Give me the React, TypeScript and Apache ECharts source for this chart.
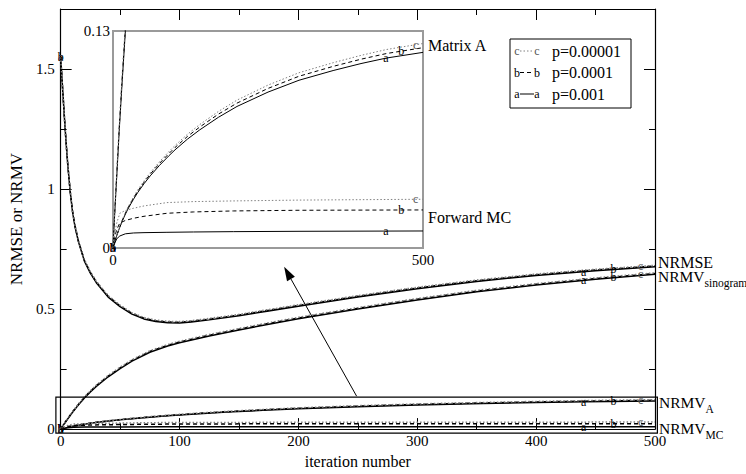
import React, { useEffect, useRef } from "react";
import * as echarts from "echarts";

const FONT = "Liberation Serif";

// Iteration grids and curve values. a: p=0.001, b: p=0.0001, c: p=0.00001
const ITER_NRMSE = [0, 1, 2, 3, 4, 5, 6, 8, 10, 12, 15, 20, 25, 30, 40, 50, 60, 70, 80, 90, 100, 110, 125, 150, 175, 200, 250, 300, 350, 400, 450, 500];
const NRMSE_A = [1.55, 1.47, 1.39, 1.31, 1.235, 1.165, 1.1, 0.99, 0.905, 0.845, 0.78, 0.7, 0.65, 0.61, 0.55, 0.51, 0.479, 0.459, 0.448, 0.443, 0.442, 0.446, 0.455, 0.472, 0.492, 0.512, 0.55, 0.585, 0.615, 0.64, 0.66, 0.676];
const NRMSE_B = [1.55, 1.471, 1.391, 1.312, 1.237, 1.167, 1.102, 0.992, 0.908, 0.848, 0.783, 0.703, 0.653, 0.613, 0.553, 0.513, 0.482, 0.462, 0.451, 0.446, 0.445, 0.449, 0.458, 0.475, 0.495, 0.515, 0.553, 0.588, 0.618, 0.643, 0.663, 0.679];
const NRMSE_C = [1.55, 1.472, 1.392, 1.314, 1.239, 1.169, 1.105, 0.995, 0.911, 0.851, 0.786, 0.706, 0.656, 0.616, 0.556, 0.516, 0.485, 0.465, 0.454, 0.449, 0.448, 0.452, 0.461, 0.478, 0.498, 0.518, 0.556, 0.591, 0.621, 0.646, 0.666, 0.682];

const ITER_SINO = [0, 2, 5, 8, 10, 15, 20, 25, 30, 40, 50, 60, 75, 90, 100, 125, 150, 175, 200, 250, 300, 350, 400, 450, 500];
const SINO_A = [0, 0.015, 0.036, 0.056, 0.07, 0.101, 0.13, 0.155, 0.178, 0.218, 0.252, 0.283, 0.32, 0.346, 0.36, 0.388, 0.413, 0.437, 0.46, 0.5, 0.538, 0.572, 0.6, 0.624, 0.645];
const SINO_B = [0, 0.016, 0.037, 0.058, 0.072, 0.103, 0.132, 0.158, 0.181, 0.221, 0.255, 0.286, 0.323, 0.349, 0.363, 0.391, 0.416, 0.44, 0.463, 0.503, 0.541, 0.575, 0.603, 0.627, 0.648];
const SINO_C = [0, 0.016, 0.038, 0.059, 0.073, 0.105, 0.134, 0.16, 0.183, 0.224, 0.258, 0.289, 0.326, 0.352, 0.366, 0.394, 0.419, 0.443, 0.466, 0.506, 0.544, 0.578, 0.606, 0.63, 0.651];

const ITER_MATRIX = [0, 2, 5, 10, 15, 20, 25, 33, 40, 50, 60, 75, 90, 100, 120, 140, 170, 200, 250, 300, 355, 400, 441, 500];
const MATRIX_A = [0, 0.0026, 0.0062, 0.0115, 0.0162, 0.0203, 0.024, 0.0292, 0.0333, 0.0385, 0.0432, 0.0495, 0.0552, 0.0588, 0.0652, 0.0708, 0.0783, 0.0848, 0.0934, 0.1005, 0.1063, 0.1105, 0.1138, 0.1172];
const MATRIX_B = [0, 0.0027, 0.0064, 0.0118, 0.0166, 0.0208, 0.0246, 0.0299, 0.0341, 0.0394, 0.0442, 0.0507, 0.0565, 0.0602, 0.0668, 0.0725, 0.0802, 0.0868, 0.0956, 0.1029, 0.1088, 0.1131, 0.1165, 0.12];
const MATRIX_C = [0, 0.0027, 0.0065, 0.012, 0.0169, 0.0212, 0.0251, 0.0305, 0.0348, 0.0402, 0.0451, 0.0517, 0.0577, 0.0614, 0.0681, 0.074, 0.0818, 0.0886, 0.0976, 0.105, 0.111, 0.1154, 0.1189, 0.1225];

const ITER_MC = [0, 1, 3, 6, 11, 20, 33, 50, 87, 130, 194, 300, 500];
const MC_A = [0, 0.0012, 0.003, 0.0055, 0.0072, 0.0085, 0.009, 0.0092, 0.0094, 0.0096, 0.0098, 0.01, 0.0102];
const MC_B = [0, 0.0028, 0.007, 0.011, 0.015, 0.0165, 0.0178, 0.019, 0.0208, 0.0216, 0.0222, 0.0226, 0.0228];
const MC_C = [0, 0.0036, 0.009, 0.015, 0.0208, 0.0225, 0.0238, 0.0252, 0.0272, 0.0278, 0.0282, 0.0287, 0.0292];

// Axis ranges
const MAIN_Y_MAX = 1.75;
const INSET_Y_MAX = 0.13;

// Region magnified in the inset, and the arrow (tail, tip) pointing at the inset
const ZOOM_BOX = [[-4, -0.017], [502, 0.133]];
const ARROW = [[249, 0.137], [188, 0.676]];

const KEYS = ["a", "b", "c"] as const;
type Key = (typeof KEYS)[number];
const LEGEND_LABELS: Record<Key, string> = { c: "p=0.00001", b: "p=0.0001", a: "p=0.001" };
const LETTER_ITER: Record<Key, number> = { a: 440, b: 465, c: 488 };

const STROKE: Record<Key, { color: string; type: any }> = {
  a: { color: "#000", type: "solid" },
  b: { color: "#000", type: [4, 3] },
  c: { color: "#808080", type: [1.5, 2] },
};
const LETTER_COLOR: Record<Key, string> = { a: "#000", b: "#000", c: "#555" };

function valueAt(xs: number[], ys: number[], x: number) {
  for (let i = 1; i < xs.length; i++) {
    if (x <= xs[i]) {
      const t = (x - xs[i - 1]) / (xs[i] - xs[i - 1]);
      return ys[i - 1] + t * (ys[i] - ys[i - 1]);
    }
  }
  return ys[ys.length - 1];
}

function curveFamily(xs: number[], values: Record<Key, number[]>, xAxisIndex: number, yAxisIndex: number, width: number, yMax: number) {
  const out: any[] = [];
  for (const k of KEYS) {
    const ys = values[k];
    out.push({
      type: "line",
      xAxisIndex,
      yAxisIndex,
      data: xs.map((x, i) => [x, ys[i]]),
      symbol: "none",
      lineStyle: { color: STROKE[k].color, type: STROKE[k].type, width },
      emphasis: { disabled: true },
      z: 3,
      silent: true,
    });
    // letter symbols on each curve: at the start and near the end
    const m = LETTER_ITER[k];
    const pts = [[0, ys[0]], [m, valueAt(xs, ys, m)]].filter((p) => p[1] <= yMax);
    out.push({
      type: "custom",
      xAxisIndex,
      yAxisIndex,
      data: pts,
      silent: true,
      z: 4,
      renderItem: (_params: any, api: any) => {
        const p = api.coord([api.value(0), api.value(1)]);
        return {
          type: "text",
          x: p[0],
          y: p[1],
          style: {
            text: k,
            fill: LETTER_COLOR[k],
            fontFamily: FONT,
            fontSize: 12,
            align: "center",
            verticalAlign: "middle",
          },
        };
      },
    });
  }
  return out;
}

const tickLabel = { fontFamily: FONT, fontSize: 15, color: "#000" };
const black = { color: "#000", width: 1.2 };
const txt = (text: string, x: number, y: number, fontSize: number) => ({
  type: "text",
  x,
  y,
  style: { text, fontFamily: FONT, fontSize, fill: "#000", align: "left", verticalAlign: "middle" },
  z: 12,
});

function fixedGraphics(): any[] {
  const legendRows: Key[] = ["c", "b", "a"];
  const legendY = [51, 72.5, 94];
  const els: any[] = [
    { type: "rect", shape: { x: 510, y: 39, width: 121, height: 69 }, style: { fill: "#fff", stroke: "#000", lineWidth: 1 }, z: 10 },
  ];
  legendRows.forEach((k, i) => {
    const y = legendY[i];
    els.push(
      { type: "line", shape: { x1: 520, y1: y, x2: 534, y2: y }, style: { stroke: STROKE[k].color, lineWidth: 1, lineDash: k === "a" ? null : STROKE[k].type }, z: 11 },
      { type: "text", x: 517, y, style: { text: k, fontFamily: FONT, fontSize: 12, fill: LETTER_COLOR[k], align: "center", verticalAlign: "middle" }, z: 12 },
      { type: "text", x: 537, y, style: { text: k, fontFamily: FONT, fontSize: 12, fill: LETTER_COLOR[k], align: "center", verticalAlign: "middle" }, z: 12 },
      txt(LEGEND_LABELS[k], 552, y, 16)
    );
  });

  const sub = (text: string, x: number, y: number) => ({
    type: "text",
    x,
    y,
    style: {
      text,
      fill: "#000",
      align: "left",
      verticalAlign: "middle",
      rich: {
        n: { fontFamily: FONT, fontSize: 15.5, fill: "#000" },
        s: { fontFamily: FONT, fontSize: 11.5, fill: "#000", padding: [14, 0, 0, 0] },
      },
    },
    z: 12,
  });

  els.push(
    txt("Matrix A", 428, 45, 16),
    txt("Forward MC", 428, 217, 16),
    txt("NRMSE", 658, 262, 16),
    sub("{n|NRMV}{s|sinogram}", 658, 276),
    sub("{n|NRMV}{s|A}", 659, 402),
    sub("{n|NRMV}{s|MC}", 659, 428)
  );
  return els;
}

function buildOption(): any {
  const series: any[] = [
    ...curveFamily(ITER_NRMSE, { a: NRMSE_A, b: NRMSE_B, c: NRMSE_C }, 0, 0, 1.5, MAIN_Y_MAX),
    ...curveFamily(ITER_SINO, { a: SINO_A, b: SINO_B, c: SINO_C }, 0, 0, 1.5, MAIN_Y_MAX),
    ...curveFamily(ITER_MATRIX, { a: MATRIX_A, b: MATRIX_B, c: MATRIX_C }, 0, 0, 1.5, MAIN_Y_MAX),
    ...curveFamily(ITER_MC, { a: MC_A, b: MC_B, c: MC_C }, 0, 0, 1.5, MAIN_Y_MAX),
    // inset: same curves on the magnified scale
    ...curveFamily(ITER_SINO, { a: SINO_A, b: SINO_B, c: SINO_C }, 2, 4, 1, INSET_Y_MAX),
    ...curveFamily(ITER_MATRIX, { a: MATRIX_A, b: MATRIX_B, c: MATRIX_C }, 2, 4, 1, INSET_Y_MAX),
    ...curveFamily(ITER_MC, { a: MC_A, b: MC_B, c: MC_C }, 2, 4, 1, INSET_Y_MAX),
  ];

  return {
    animation: false,
    backgroundColor: "#fff",
    textStyle: { fontFamily: FONT },
    grid: [
      { left: 51, top: 9, width: 604, height: 422, show: false },
      { left: 113, top: 31, width: 310, height: 217, show: true, backgroundColor: "#fff", borderColor: "#9a9a9a", borderWidth: 2, z: 1 },
    ],
    xAxis: [
      {
        gridIndex: 0, type: "value", position: "bottom", min: 0, max: 500, interval: 100,
        axisLine: { show: true, onZero: false, lineStyle: black },
        axisTick: { show: true, inside: true, length: 11, lineStyle: { color: "#000" } },
        minorTick: { show: true, splitNumber: 2, length: 6, lineStyle: { color: "#000" } },
        splitLine: { show: false },
        axisLabel: { ...tickLabel, margin: 4 },
        name: "iteration number", nameLocation: "middle", nameGap: 22,
        nameTextStyle: { fontFamily: FONT, fontSize: 16, color: "#000" },
      },
      {
        gridIndex: 0, type: "value", position: "top", min: 0, max: 500, interval: 100,
        axisLine: { show: true, onZero: false, lineStyle: black },
        axisTick: { show: true, inside: true, length: 11, lineStyle: { color: "#000" } },
        minorTick: { show: true, splitNumber: 2, length: 6, lineStyle: { color: "#000" } },
        splitLine: { show: false },
        axisLabel: { show: false },
      },
      {
        gridIndex: 1, type: "value", position: "bottom", min: 0, max: 500, interval: 500,
        axisLine: { show: false, onZero: false },
        axisTick: { show: false, inside: true },
        minorTick: { show: true, splitNumber: 2, length: 5, lineStyle: { color: "#000" } },
        splitLine: { show: false },
        axisLabel: { ...tickLabel, margin: 4 },
      },
      {
        gridIndex: 1, type: "value", position: "top", min: 0, max: 500, interval: 500,
        axisLine: { show: false, onZero: false },
        axisTick: { show: false, inside: true },
        minorTick: { show: true, splitNumber: 2, length: 5, lineStyle: { color: "#000" } },
        splitLine: { show: false },
        axisLabel: { show: false },
      },
    ],
    yAxis: [
      {
        gridIndex: 0, type: "value", position: "left", min: 0, max: MAIN_Y_MAX, interval: 0.5,
        axisLine: { show: true, onZero: false, lineStyle: black },
        axisTick: { show: true, inside: true, length: 11, lineStyle: { color: "#000" } },
        splitLine: { show: false },
        axisLabel: { ...tickLabel, margin: 6, showMaxLabel: false },
        name: "NRMSE or NRMV", nameLocation: "middle", nameGap: 35,
        nameTextStyle: { fontFamily: FONT, fontSize: 17, color: "#000" },
      },
      {
        gridIndex: 0, type: "value", position: "left", min: 0, max: MAIN_Y_MAX, interval: 0.25,
        axisLine: { show: false, onZero: false },
        axisTick: { show: true, inside: true, length: 6, lineStyle: { color: "#000" } },
        splitLine: { show: false },
        axisLabel: { show: false },
      },
      {
        gridIndex: 0, type: "value", position: "right", min: 0, max: MAIN_Y_MAX, interval: 0.5,
        axisLine: { show: true, onZero: false, lineStyle: black },
        axisTick: { show: true, inside: true, length: 11, lineStyle: { color: "#000" } },
        splitLine: { show: false },
        axisLabel: { show: false },
      },
      {
        gridIndex: 0, type: "value", position: "right", min: 0, max: MAIN_Y_MAX, interval: 0.25,
        axisLine: { show: false, onZero: false },
        axisTick: { show: true, inside: true, length: 6, lineStyle: { color: "#000" } },
        splitLine: { show: false },
        axisLabel: { show: false },
      },
      {
        gridIndex: 1, type: "value", position: "left", min: 0, max: INSET_Y_MAX, interval: 0.13,
        axisLine: { show: false, onZero: false },
        axisTick: { show: false },
        splitLine: { show: false },
        axisLabel: { ...tickLabel, margin: 3 },
      },
    ],
    series,
    graphic: { elements: fixedGraphics() },
  };
}

// Box around the magnified region and the arrow, placed through the main axes
function annotationGraphics(chart: echarts.ECharts): any[] {
  const a = chart.convertToPixel({ gridIndex: 0 }, ZOOM_BOX[0]) as number[];
  const b = chart.convertToPixel({ gridIndex: 0 }, ZOOM_BOX[1]) as number[];
  const tail = chart.convertToPixel({ gridIndex: 0 }, ARROW[0]) as number[];
  const tip = chart.convertToPixel({ gridIndex: 0 }, ARROW[1]) as number[];
  const dx = tip[0] - tail[0];
  const dy = tip[1] - tail[1];
  const len = Math.hypot(dx, dy);
  const ux = dx / len;
  const uy = dy / len;
  const headLen = 14;
  const headHalf = 4.5;
  const bx = tip[0] - ux * headLen;
  const by = tip[1] - uy * headLen;
  return [
    {
      id: "zoomBox",
      type: "rect",
      shape: { x: Math.min(a[0], b[0]), y: Math.min(a[1], b[1]), width: Math.abs(b[0] - a[0]), height: Math.abs(b[1] - a[1]) },
      style: { fill: "none", stroke: "#000", lineWidth: 1.2 },
      z: 6,
      silent: true,
    },
    {
      id: "arrowShaft",
      type: "line",
      shape: { x1: tail[0], y1: tail[1], x2: bx, y2: by },
      style: { stroke: "#000", lineWidth: 1 },
      z: 6,
      silent: true,
    },
    {
      id: "arrowHead",
      type: "polygon",
      shape: {
        points: [
          [tip[0], tip[1]],
          [bx - uy * headHalf, by + ux * headHalf],
          [bx + uy * headHalf, by - ux * headHalf],
        ],
      },
      style: { fill: "#000" },
      z: 6,
      silent: true,
    },
  ];
}

export default function App() {
  const ref = useRef<HTMLDivElement>(null);
  useEffect(() => {
    if (!ref.current) return;
    const chart = echarts.init(ref.current, null, { renderer: "svg" });
    chart.setOption(buildOption());
    chart.setOption({ graphic: { elements: [...fixedGraphics(), ...annotationGraphics(chart)] } });
    return () => chart.dispose();
  }, []);
  return (
    <div
      ref={ref}
      style={{ position: "absolute", left: 0, top: 0, width: 746, height: 474, background: "#fff" }}
    />
  );
}
